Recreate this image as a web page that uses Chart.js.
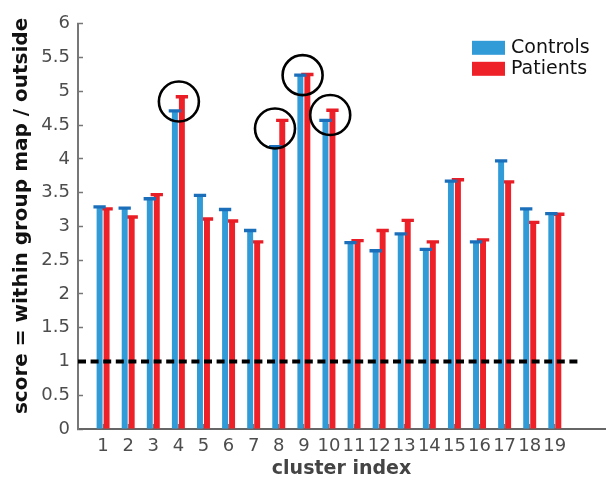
<!DOCTYPE html>
<html>
<head>
<meta charset="utf-8">
<script src="https://cdn.jsdelivr.net/npm/chart.js@4.4.1/dist/chart.umd.min.js"></script>
<style>
    html, body { margin: 0; padding: 0; background: #fff; }
</style>
</head>
<body>
<canvas id="chart" width="606" height="480"></canvas>
<script>
const clusters = [1, 2, 3, 4, 5, 6, 7, 8, 9, 10, 11, 12, 13, 14, 15, 16, 17, 18, 19];
const controls = [3.29, 3.27, 3.41, 4.71, 3.46, 3.25, 2.94, 4.18, 5.24, 4.57, 2.76, 2.64, 2.89, 2.66, 3.67, 2.77, 3.97, 3.26, 3.19];
const patients = [3.26, 3.14, 3.47, 4.92, 3.11, 3.08, 2.77, 4.57, 5.25, 4.72, 2.79, 2.94, 3.09, 2.77, 3.69, 2.80, 3.66, 3.06, 3.18];
const yTicks = [0, 0.5, 1, 1.5, 2, 2.5, 3, 3.5, 4, 4.5, 5, 5.5, 6];

// highlighted clusters 4, 8, 9, 10 (circle centres)
const circledX = [4.02, 7.85, 8.95, 10.05];
const circledY = [4.85, 4.45, 5.24, 4.65];

// dashed reference line
const chanceLevel = 1;
const chanceSpan = [0, 20];

const capHalf = 0.025;
const bars = (vals) => vals.map((v, i) => ({ x: clusters[i], y: v }));
const caps = (vals) => vals.map((v, i) => ({ x: clusters[i], y: [v - capHalf, v + capHalf] }));

const barStyle = { categoryPercentage: 0.558, barPercentage: 0.85, borderWidth: 0 };
const capStyle = { categoryPercentage: 0.558, barPercentage: 1.76, borderWidth: 0 };

const tickFont = { family: 'DejaVu Sans', size: 18 };

// legend drawn in the top right corner of the plot area
const legendBox = {
    id: 'legendBox',
    afterDraw(chart) {
        const { ctx, chartArea } = chart;
        const items = chart.data.datasets.filter(d => d.legend);
        ctx.save();
        ctx.font = '19px "DejaVu Sans"';
        ctx.textBaseline = 'middle';
        items.forEach((d, i) => {
            const x = chartArea.right - 133;
            const y = chartArea.top + 17 + i * 21;
            ctx.fillStyle = d.backgroundColor;
            ctx.fillRect(x, y, 33, 14);
            ctx.fillStyle = '#111';
            ctx.fillText(d.label, x + 39, y + 7.5);
        });
        ctx.restore();
    }
};

new Chart(document.getElementById('chart'), {
    type: 'bar',
    data: {
        datasets: [
            {
                type: 'scatter',
                data: circledX.map((x, i) => ({ x, y: circledY[i] })),
                pointRadius: 20,
                pointHoverRadius: 20,
                pointBorderColor: '#000',
                pointBorderWidth: 2.6,
                pointBackgroundColor: 'rgba(0,0,0,0)',
                order: 0
            },
            {
                type: 'line',
                data: chanceSpan.map(x => ({ x, y: chanceLevel })),
                borderColor: '#000',
                borderWidth: 4,
                borderDash: [8, 4.6],
                pointRadius: 0,
                fill: false,
                order: 1
            },
            { data: caps(controls), backgroundColor: '#1b6fba', stack: 'c', order: 2, ...capStyle },
            { label: 'Controls', data: bars(controls), backgroundColor: '#319bd7', stack: 'c', order: 3, legend: true, ...barStyle },
            { data: caps(patients), backgroundColor: '#e81d25', stack: 'p', order: 4, ...capStyle },
            { label: 'Patients', data: bars(patients), backgroundColor: '#ef2128', stack: 'p', order: 5, legend: true, ...barStyle }
        ]
    },
    options: {
        responsive: false,
        devicePixelRatio: 1,
        animation: false,
        events: [],
        layout: { autoPadding: false, padding: { top: 13, right: 1, left: 0, bottom: 0 } },
        plugins: {
            legend: { display: false },
            tooltip: { enabled: false }
        },
        scales: {
            x: {
                type: 'linear',
                min: 0,
                max: 21,
                offset: false,
                afterBuildTicks: (axis) => { axis.ticks = clusters.map(v => ({ value: v })); },
                afterFit: (axis) => { axis.height = 51; },
                grid: { drawOnChartArea: false, offset: false, tickLength: -5, tickColor: '#777', tickWidth: 1.5 },
                border: { color: '#666', width: 2 },
                ticks: { autoSkip: false, maxRotation: 0, padding: 12, color: '#4d4d4d', font: tickFont, callback: v => String(v) },
                title: {
                    display: true,
                    text: 'cluster index',
                    color: '#444',
                    font: { family: 'DejaVu Sans', size: 19, weight: 'bold', lineHeight: 1 },
                    padding: { top: 0, bottom: 1 }
                }
            },
            y: {
                min: 0,
                max: 6,
                stacked: false,
                afterBuildTicks: (axis) => { axis.ticks = yTicks.map(v => ({ value: v })); },
                afterFit: (axis) => { axis.width = 78; },
                grid: { drawOnChartArea: false, tickLength: -5, tickColor: '#777', tickWidth: 1.5 },
                border: { color: '#777', width: 2 },
                ticks: { padding: 13, color: '#4d4d4d', font: tickFont, callback: v => String(v) },
                title: {
                    display: true,
                    text: '\u00a0\u00a0\u00a0score = within group map / outside',
                    color: '#111',
                    font: { family: 'DejaVu Sans', size: 20, weight: 'bold', lineHeight: 1 },
                    padding: { top: 12, bottom: 0 }
                }
            }
        }
    },
    plugins: [legendBox]
});
</script>
</body>
</html>
